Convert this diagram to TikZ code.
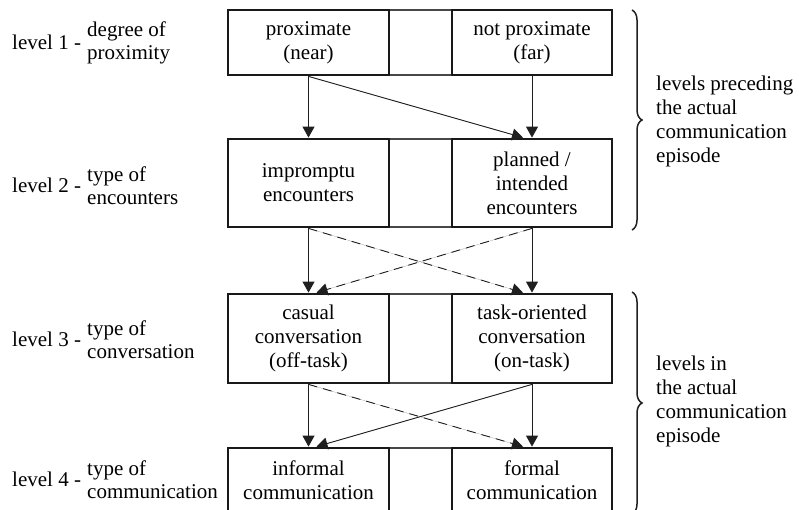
\documentclass[tikz,border=0pt]{standalone}
\usepackage{fontspec}
\setmainfont{Liberation Serif}
\usetikzlibrary{arrows.meta,decorations.pathreplacing}

\begin{document}
\begin{tikzpicture}[x=1pt,y=-1pt,
  every node/.style={font=\fontsize{21}{24}\selectfont, inner sep=0pt},
  cellbox/.style={draw=black!90, line width=2.8pt, align=center},
  gapbox/.style={draw=black!72, line width=1.5pt},
  flow/.style={-{Triangle[length=11pt,width=12pt]}, line width=0.9pt, draw=black!88, fill=black!88},
  alt/.style={flow, dash pattern=on 9pt off 6pt},
  levelname/.style={anchor=west},
  leveltopic/.style={anchor=west, align=left, font=\fontsize{21}{23}\selectfont},
  groupnote/.style={anchor=west, align=left},
  groupbrace/.style={decorate, decoration={brace, amplitude=10pt}, line width=1.5pt, draw=black!88}
]
\useasboundingbox (0,0) rectangle (799,510);
\clip (0,0) rectangle (799,510);

% spacer cells between the two columns
\node[gapbox, minimum width=63pt, minimum height=65pt] (M1) at (420.5,42.5) {};
\node[gapbox, minimum width=63pt, minimum height=88pt] (M2) at (420.5,183) {};
\node[gapbox, minimum width=63pt, minimum height=89pt] (M3) at (420.5,338.5) {};
\node[gapbox, minimum width=63pt, minimum height=65pt] (M4) at (420.5,480.5) {};

% level 1
\node[cellbox, minimum width=161pt, minimum height=65pt] (L1) at (308.5,42.5) {proximate\\(near)};
\node[cellbox, minimum width=160pt, minimum height=65pt] (R1) at (532,42.5) {not proximate\\(far)};
% level 2
\node[cellbox, minimum width=161pt, minimum height=88pt] (L2) at (308.5,183) {impromptu\\encounters};
\node[cellbox, minimum width=160pt, minimum height=88pt] (R2) at (532,183) {planned /\\intended\\encounters};
% level 3
\node[cellbox, minimum width=161pt, minimum height=89pt] (L3) at (308.5,338.5) {casual\\conversation\\(off-task)};
\node[cellbox, minimum width=160pt, minimum height=89pt] (R3) at (532,338.5) {task-oriented\\conversation\\(on-task)};
% level 4
\node[cellbox, minimum width=161pt, minimum height=65pt] (L4) at (308.5,480.5) {informal\\communication};
\node[cellbox, minimum width=160pt, minimum height=65pt] (R4) at (532,480.5) {formal\\communication};

% level captions on the left
\node[levelname] (n1) at (12,42) {level 1 -};
\node[leveltopic] (t1) at (87,43) {degree of\\proximity};
\node[levelname] (n2) at (12,185) {level 2 -};
\node[leveltopic] (t2) at (87,186) {type of\\encounters};
\node[levelname] (n3) at (12,339) {level 3 -};
\node[leveltopic] (t3) at (87,340) {type of\\conversation};
\node[levelname] (n4) at (12,479) {level 4 -};
\node[leveltopic] (t4) at (87,480) {type of\\communication};

% connectors level 1 -> level 2
\draw[flow] (L1.south) -- (L2.north);
\draw[flow] (L1.south) -- ([xshift=-9pt]R2.north);
\draw[flow] (R1.south) -- (R2.north);
% connectors level 2 -> level 3
\draw[flow] (L2.south) -- (L3.north);
\draw[flow] (R2.south) -- (R3.north);
\draw[alt] (L2.south) -- ([xshift=-9pt]R3.north);
\draw[alt] (R2.south) -- ([xshift=8pt]L3.north);
% connectors level 3 -> level 4
\draw[flow] (L3.south) -- (L4.north);
\draw[flow] (R3.south) -- (R4.north);
\draw[alt] (L3.south) -- ([xshift=-9pt]R4.north);
\draw[flow] (R3.south) -- ([xshift=8pt]L4.north);

% grouping braces and notes
\coordinate (b1a) at (632,10);
\coordinate (b1b) at (632,230);
\coordinate (b2a) at (632,292);
\coordinate (b2b) at (632,514);
\draw[groupbrace] (b1a) -- (b1b);
\draw[groupbrace] (b2a) -- (b2b);
\node[groupnote] (g1) at (656,121) {levels preceding\\the actual\\communication\\episode};
\node[groupnote] (g2) at (656,401) {levels in\\the actual\\communication\\episode};
\end{tikzpicture}
\end{document}
